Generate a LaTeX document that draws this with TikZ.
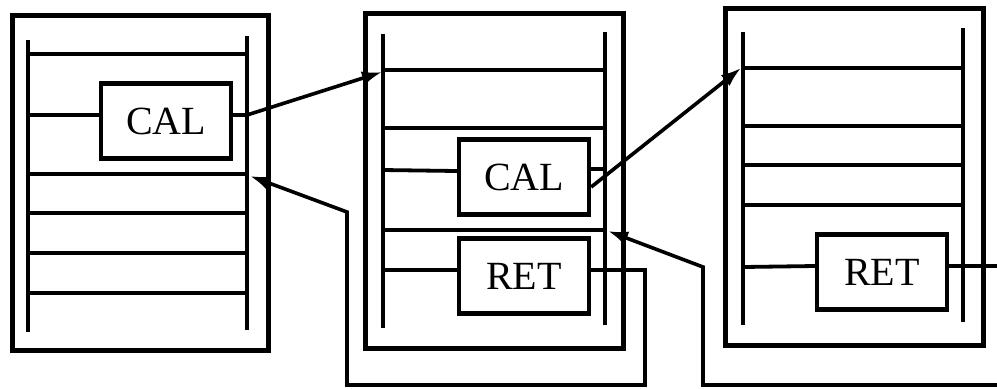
\documentclass[tikz,border=0pt]{standalone}
\usepackage{fontspec}
\setmainfont{Liberation Serif}
\usetikzlibrary{arrows.meta, positioning}

\begin{document}
\begin{tikzpicture}[x=0.5pt, y=-0.5pt,
      frame/.style={line width=2.5pt},
      rail/.style={line width=2.2pt},
      rung/.style={line width=1.9pt},
      instr/.style={draw, line width=2.2pt, inner sep=0pt, minimum width=65pt,
         minimum height=37.5pt, font=\fontsize{20}{24}\selectfont},
      link/.style={line width=1.8pt, -{Latex[length=10pt, width=7pt]}}]
   \useasboundingbox (0,0) rectangle (997,388);
   \clip (0,0) rectangle (997,388);
   % first frame
   \draw[frame] (12,15) rectangle (268,350);
   \draw[rail] (28,40) -- (28,332) (247,36) -- (247,330);
   \draw[rung] (28,54) -- (247,54) (28,174) -- (247,174) (28,213) -- (247,213)
      (28,253) -- (247,253) (28,293) -- (247,293);
   \node[instr] (cal1) at (166,121) {CAL};
   \coordinate (in1) at (250,176);
   % second frame
   \draw[frame] (365,13) rectangle (623,348);
   \draw[rail] (383,34) -- (383,328) (605,32) -- (605,325);
   \draw[rung] (383,70) -- (605,70) (383,128) -- (605,128) (383,230) -- (605,230);
   \node[instr] (cal2) at (524,177) {CAL};
   \node[instr] (ret2) at (524,276) {RET};
   \coordinate (top2) at (382,72);
   \coordinate (in2) at (608,231);
   % third frame
   \draw[frame] (725,8) rectangle (983,345);
   \draw[rail] (743,32) -- (743,325) (963,28) -- (963,322);
   \draw[rung] (743,68) -- (963,68) (743,126) -- (963,126) (743,165) -- (963,165)
      (743,205) -- (963,205);
   \node[instr] (ret3) at (882,272) {RET};
   \coordinate (top3) at (741,68);
   % rungs into the boxes
   \draw[rung] (28,115) -- ([yshift=3pt]cal1.west);
   \draw[rung] (383,170) -- ([yshift=3pt]cal2.west);
   \draw[rung] ([yshift=4pt]cal2.east) -- (605,169);
   \draw[rung] (383,270) -- ([yshift=3pt]ret2.west);
   \draw[rung] (743,267) -- ([yshift=3pt]ret3.west);
   % calls
   \draw[link] ([yshift=3pt]cal1.east) -- (247,115) -- (top2);
   \draw[link] ([yshift=-5pt]cal2.east) -- (top3);
   % returns
   \draw[link] ([yshift=3pt]ret2.east) -- (645,270) -- (645,385) -- (347,385)
      -- (347,212) -- (in1);
   \draw[link] ([yshift=3pt]ret3.east) -- (1010,266) -- (1010,385) -- (703,385)
      -- (703,267) -- (in2);
\end{tikzpicture}
\end{document}
